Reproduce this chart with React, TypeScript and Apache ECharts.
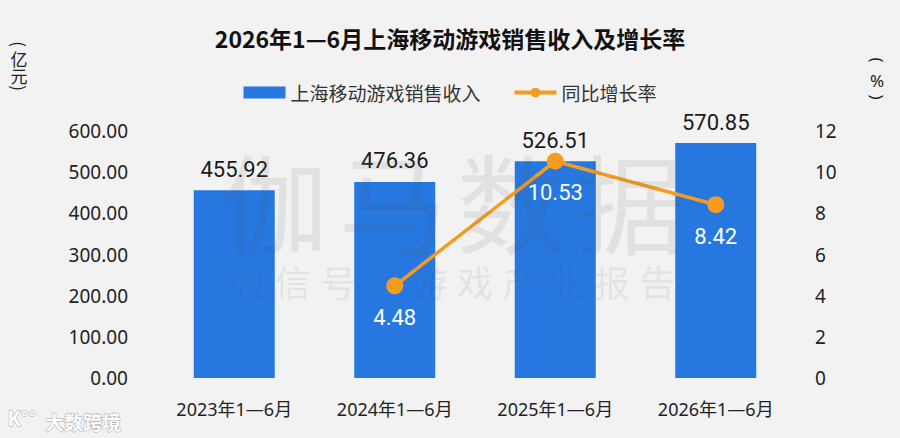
import React, { useEffect, useRef } from "react";
import * as echarts from "echarts";

const categories = ["2023年1—6月", "2024年1—6月", "2025年1—6月", "2026年1—6月"];
const revenue = [455.92, 476.36, 526.51, 570.85];
const growth: (number | null)[] = [null, 4.48, 10.53, 8.42];
const leftTicks = { min: 0, max: 600, interval: 100 };
const rightTicks = { min: 0, max: 12, interval: 2 };
const titleText = "2026年1—6月上海移动游戏销售收入及增长率";
const seriesNames = ["上海移动游戏销售收入", "同比增长率"];
const leftUnit = ["(", "亿", "元", ")"];
const rightUnit = ["(", "%", ")"];
const watermarkBig = ["伽", "马", "数", "据"];
const watermarkSmall = ["微", "信", "号", "：", "游", "戏", "产", "业", "报", "告"];
const logoText = "大数跨境";

const CJK = '"Noto Sans CJK SC", "Noto Sans", sans-serif';
const AXIS = '"Noto Sans", "Noto Sans CJK SC", sans-serif';
const NUM = 'Roboto, "Noto Sans", sans-serif';

export default function App() {
  const ref = useRef<HTMLDivElement>(null);
  useEffect(() => {
    document.body.style.margin = "0";
    if (!ref.current) return;
    const chart = echarts.init(ref.current, undefined, { renderer: "svg" });
    const graphics: any[] = [];
    watermarkBig.forEach((ch, i) => {
      graphics.push({
        type: "text",
        x: 274 + i * 118.5,
        y: 199,
        z: 100,
        silent: true,
        style: {
          text: ch,
          font: `108px ${CJK}`,
          fill: "rgba(90,90,90,0.11)",
          align: "center",
          verticalAlign: "middle",
        },
      });
    });
    watermarkSmall.forEach((ch, i) => {
      graphics.push({
        type: "text",
        x: 247 + i * 45.6,
        y: 281,
        z: 100,
        silent: true,
        style: {
          text: ch,
          font: `36px ${CJK}`,
          fill: "rgba(90,90,90,0.11)",
          align: "center",
          verticalAlign: "middle",
        },
      });
    });
    const unitYLeft = [44, 58, 75, 88];
    leftUnit.forEach((ch, i) => {
      const isParen = ch === "(" || ch === ")";
      graphics.push({
        type: "text",
        x: 19,
        y: unitYLeft[i],
        rotation: isParen ? -Math.PI / 2 : 0,
        style: {
          text: ch,
          font: `17px ${CJK}`,
          fill: "#222",
          align: "center",
          verticalAlign: "middle",
        },
      });
    });
    const unitYRight = [60, 80, 97];
    rightUnit.forEach((ch, i) => {
      const isParen = ch === "(" || ch === ")";
      graphics.push({
        type: "text",
        x: 877,
        y: unitYRight[i],
        rotation: isParen ? -Math.PI / 2 : 0,
        style: {
          text: ch,
          font: `17px ${AXIS}`,
          fill: "#222",
          align: "center",
          verticalAlign: "middle",
        },
      });
    });
    graphics.push(
      {
        type: "text",
        x: 45,
        y: 421,
        style: {
          text: logoText,
          font: `bold 19px ${CJK}`,
          fill: "#ffffff",
          stroke: "#a8a8a8",
          lineWidth: 1,
          verticalAlign: "middle",
        },
      },
      {
        type: "text",
        x: 8,
        y: 419,
        style: {
          text: "K°°",
          font: `bold 20px Roboto, sans-serif`,
          fill: "#ffffff",
          stroke: "#a8a8a8",
          lineWidth: 1,
          verticalAlign: "middle",
        },
      }
    );

    chart.setOption({
      animation: false,
      backgroundColor: "#f2f2f2",
      title: {
        text: titleText,
        left: "center",
        top: 21,
        textStyle: { fontSize: 23, fontWeight: "bold", color: "#111", fontFamily: CJK },
      },
      legend: {
        top: 78,
        left: "center",
        itemGap: 32,
        itemWidth: 42,
        itemHeight: 12,
        textStyle: { fontSize: 19, color: "#333", fontFamily: CJK },
        lineStyle: { width: 4 },
        data: [
          { name: seriesNames[0], icon: "rect" },
          { name: seriesNames[1] },
        ],
      },
      grid: { left: 154, right: 104, top: 131, bottom: 60, containLabel: false },
      xAxis: {
        type: "category",
        data: categories,
        axisLine: { show: false },
        axisTick: { show: false },
        axisLabel: { fontSize: 18, color: "#222", margin: 22, fontFamily: AXIS },
      },
      yAxis: [
        {
          type: "value",
          ...leftTicks,
          splitLine: { show: false },
          axisLine: { show: false },
          axisTick: { show: false },
          axisLabel: {
            fontSize: 19,
            color: "#222",
            margin: 26,
            fontFamily: AXIS,
            formatter: (v: number) => v.toFixed(2),
          },
        },
        {
          type: "value",
          ...rightTicks,
          splitLine: { show: false },
          axisLine: { show: false },
          axisTick: { show: false },
          axisLabel: { fontSize: 19, color: "#222", margin: 19, fontFamily: AXIS },
        },
      ],
      series: [
        {
          name: seriesNames[0],
          type: "bar",
          data: revenue,
          barWidth: 81,
          itemStyle: { color: "#2677e0" },
          label: {
            show: true,
            position: "top",
            distance: 10,
            fontSize: 22,
            color: "#1a1a1a",
            fontFamily: NUM,
            formatter: (p: any) => p.value.toFixed(2),
          },
        },
        {
          name: seriesNames[1],
          type: "line",
          yAxisIndex: 1,
          data: growth,
          symbol: "circle",
          symbolSize: 17,
          lineStyle: { color: "#f59b20", width: 3.5 },
          itemStyle: { color: "#f59b20" },
          z: 5,
          label: {
            show: true,
            position: "bottom",
            distance: 12,
            fontSize: 22,
            color: "#ffffff",
            fontFamily: NUM,
            formatter: (p: any) => p.value.toFixed(2),
          },
        },
      ],
      graphic: graphics,
    });
    return () => chart.dispose();
  }, []);
  return <div ref={ref} style={{ width: 900, height: 438 }} />;
}
